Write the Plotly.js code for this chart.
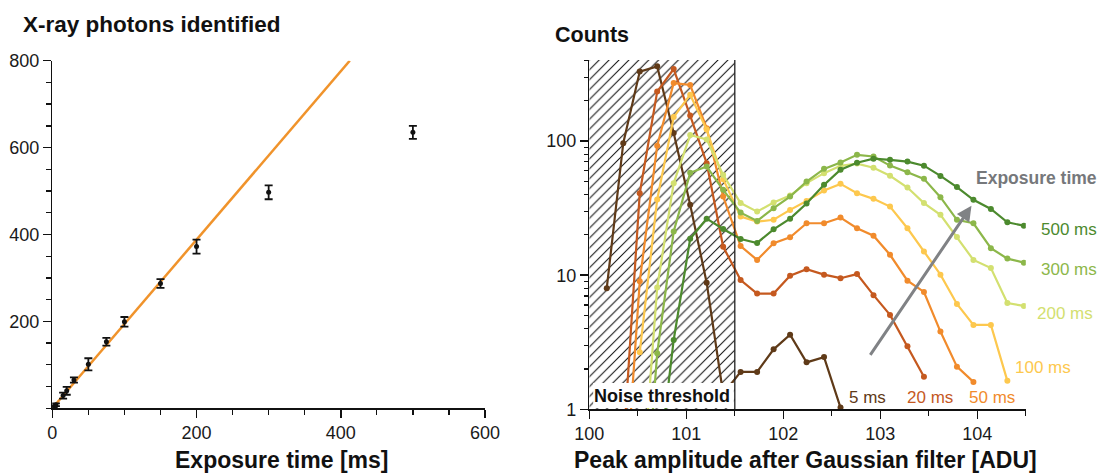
<!DOCTYPE html>
<html><head><meta charset="utf-8">
<script src="https://cdn.plot.ly/plotly-3.0.1.min.js"></script>
<style>html,body{margin:0;padding:0;background:#fff}#chart{width:1098px;height:474px}</style>
</head><body><div id="chart"></div>
<script>
// ---------- Left panel: X-ray photons identified vs exposure time ----------
const exposureMs = [2, 5, 15, 20, 30, 50, 75, 100, 150, 200, 300, 500];
const photonsIdentified = [4, 8, 29, 40, 65, 101, 153, 199, 287, 372, 497, 635];
const photonsError = [2, 3, 7, 9, 6, 14, 9, 11, 10, 16, 16, 15];
const fitExposure = [0, 412.5];
const fitPhotons = [0, 800];
const leftXTicks = [0, 200, 400, 600];
const leftYTicks = [200, 400, 600, 800];

// ---------- Right panel: Counts vs peak amplitude ----------
const amplitudeADU = [100.18, 100.35, 100.52, 100.70, 100.87, 101.04, 101.21, 101.38, 101.56, 101.73,
  101.90, 102.07, 102.24, 102.42, 102.59, 102.76, 102.93, 103.10, 103.28, 103.45,
  103.62, 103.79, 103.96, 104.14, 104.31, 104.48];
const counts5ms = [8.0, 96.6, 330, 361, 115, 33.5, 8.8, 1.3, 1.9, 1.9, 2.8, 3.6, 2.24, 2.45, 1.03,
  null, null, null, null, null, null, null, null, null, null, null];
const counts20ms = [null, 0.5, 40.9, 234, 345, 155, 68.5, 16.3, 9.2, 7.3, 7.3, 9.9, 11.1, 10.1, 9.5,
  10.2, 7.1, 5.06, 2.95, 1.75, null, null, null, null, null, null];
const counts50ms = [null, 0.14, 9.0, 92.5, 271, 262, 125, 38.6, 16.5, 13.0, 17.3, 19.2, 24.4, 24.4, 26.9,
  22.4, 19.7, 14.2, 9.1, 7.5, 3.8, 2.08, 1.6, null, null, null];
const counts100ms = [null, null, 2.66, 36.7, 151, 222, 122, 52, 27.4, 25.1, 25.9, 30.7, 35.8, 42.8, 48.0,
  40.9, 37.1, 32.5, 22.4, 15.0, 10.1, 6.1, 4.26, 4.26, 1.63, null];
const counts200ms = [null, null, 0.15, 8.1, 48.6, 111, 103, 56, 34.5, 29.8, 34.8, 39.3, 48.6, 57.7, 65.4,
  68, 63.3, 55.1, 45.1, 34.5, 28.2, 19.3, 13.0, 11.3, 6.2, 5.9];
const counts300ms = [null, null, 0.05, 2.62, 21.2, 58, 64.6, 43.3, 29.3, 25.4, 31.6, 38.6, 50.0, 62.1, 69.2,
  79.0, 76.8, 65.7, 58.7, 52.3, 38.2, 25.9, 24.4, 15.9, 13.3, 12.4];
const counts500ms = [null, null, null, 0.3, 3.29, 18.7, 26.4, 22.1, 18.6, 17.4, 22.0, 26.4, 34.3, 47.2, 61.1,
  69, 74, 72.5, 70.4, 65.6, 55, 45.4, 36.5, 31.2, 24.8, 23.4];
const seriesNames = ['5 ms', '20 ms', '50 ms', '100 ms', '200 ms', '300 ms', '500 ms'];
const seriesValues = [counts5ms, counts20ms, counts50ms, counts100ms, counts200ms, counts300ms, counts500ms];
const seriesColors = ['#5F3A18', '#C5591F', '#F18B2C', '#FDC84E', '#D3E070', '#8CB74A', '#4C8A2E'];
const noiseThreshold = [100, 101.5];
const rightXTicks = [100, 101, 102, 103, 104];
const rightYTicks = [1, 10, 100];
const rightYMinor = [2, 3, 4, 5, 6, 7, 8, 9, 20, 30, 40, 50, 60, 70, 80, 90, 200, 300, 400];
const arrowTail = [102.866, 2.36];
const arrowHead = [103.94, 32.9];

const FONT = 'Liberation Sans, Arial, Helvetica, sans-serif';
const TXT = '#1a1a1a';

const traces = [];
traces.push({
  x: fitExposure, y: fitPhotons, xaxis: 'x', yaxis: 'y', mode: 'lines',
  line: {color: '#F0932B', width: 2.5}, hoverinfo: 'skip'
});
traces.push({
  x: exposureMs, y: photonsIdentified, xaxis: 'x', yaxis: 'y', mode: 'markers',
  marker: {color: '#111', size: 5},
  error_y: {type: 'data', array: photonsError, visible: true, color: '#111', thickness: 1.8, width: 4}
});
// hatched noise region
traces.push({
  x: [noiseThreshold[0], noiseThreshold[1], noiseThreshold[1], noiseThreshold[0], noiseThreshold[0]],
  y: [0.5, 0.5, 2000, 2000, 0.5], xaxis: 'x2', yaxis: 'y2', mode: 'lines',
  fill: 'toself', fillcolor: 'rgba(0,0,0,0)', line: {width: 0, color: 'rgba(0,0,0,0)'},
  fillpattern: {shape: '/', size: 7, solidity: 0.15, fgcolor: '#111', bgcolor: '#fff'},
  hoverinfo: 'skip'
});
seriesValues.forEach((vals, i) => {
  traces.push({
    x: amplitudeADU, y: vals, name: seriesNames[i], xaxis: 'x2', yaxis: 'y2',
    mode: 'lines+markers', connectgaps: false,
    line: {color: seriesColors[i], width: 2.2},
    marker: {color: seriesColors[i], size: 6}
  });
});

const axisCommon = {
  showline: true, linecolor: '#111', linewidth: 1.5, ticks: 'outside', ticklen: 8, tickwidth: 1.5,
  tickcolor: '#111', showgrid: false, zeroline: false, fixedrange: true,
  tickfont: {family: FONT, size: 18, color: TXT}
};

const layout = {
  width: 1098, height: 474,
  margin: {l: 0, r: 0, t: 0, b: 0, pad: 0},
  paper_bgcolor: '#fff', plot_bgcolor: 'rgba(0,0,0,0)',
  showlegend: false,
  xaxis: Object.assign({}, axisCommon, {
    domain: [52.3/1098, 485/1098], range: [0, 600], tickvals: leftXTicks,
    minor: {ticks: 'outside', ticklen: 5, tickwidth: 1.3, tickcolor: '#111', dtick: 50, tick0: 0},
    anchor: 'y'
  }),
  yaxis: Object.assign({}, axisCommon, {
    domain: [(474-408.2)/474, (474-60.7)/474], range: [0, 800], tickvals: leftYTicks,
    minor: {ticks: 'outside', ticklen: 5, tickwidth: 1.3, tickcolor: '#111', dtick: 50, tick0: 0},
    anchor: 'x'
  }),
  xaxis2: Object.assign({}, axisCommon, {
    domain: [589.3/1098, 1025.8/1098], range: [100, 104.5], tickvals: rightXTicks,
    minor: {ticks: 'outside', ticklen: 5, tickwidth: 1.3, tickcolor: '#111', dtick: 0.5, tick0: 100},
    anchor: 'y2'
  }),
  yaxis2: Object.assign({}, axisCommon, {
    type: 'log', domain: [(474-409.3)/474, (474-60)/474], range: [0, 2.605],
    tickvals: rightYTicks, ticktext: rightYTicks.map(String),
    minor: {ticks: 'outside', ticklen: 4, tickwidth: 1.2, tickcolor: '#111', tickvals: rightYMinor},
    anchor: 'x2'
  }),
  shapes: [
    {type: 'rect', xref: 'x2', yref: 'y2 domain', x0: 100.04, x1: 101.49, y0: 0.004, y1: 0.075,
     fillcolor: '#fff', line: {width: 0}, layer: 'above'},
    {type: 'line', xref: 'x2', yref: 'y2 domain', x0: noiseThreshold[1], x1: noiseThreshold[1], y0: 0, y1: 1,
     line: {color: '#222', width: 1.3}, layer: 'above'}
  ],
  annotations: [
    {text: '<b>X-ray photons identified</b>', xref: 'paper', yref: 'paper', x: 21/1098, y: (474-24)/474,
     xanchor: 'left', yanchor: 'middle', showarrow: false, font: {family: FONT, size: 22.5, color: '#111'}},
    {text: '<b>Counts</b>', xref: 'paper', yref: 'paper', x: 553/1098, y: (474-35)/474,
     xanchor: 'left', yanchor: 'middle', showarrow: false, font: {family: FONT, size: 21.5, color: '#111'}},
    {text: '<b>Exposure time [ms]</b>', xref: 'paper', yref: 'paper', x: 281/1098, y: (474-460)/474,
     xanchor: 'center', yanchor: 'middle', showarrow: false, font: {family: FONT, size: 23, color: '#111'}},
    {text: '<b>Peak amplitude after Gaussian filter [ADU]</b>', xref: 'paper', yref: 'paper', x: 805/1098, y: (474-460)/474,
     xanchor: 'center', yanchor: 'middle', showarrow: false, font: {family: FONT, size: 23, color: '#111'}},
    {text: '<b>Noise threshold</b>', xref: 'x2', yref: 'y2 domain', x: 100.75, y: 0.038,
     xanchor: 'center', yanchor: 'middle', showarrow: false, font: {family: FONT, size: 18, color: '#111'}},
    {text: ' ', xref: 'x2', yref: 'y2', x: arrowHead[0], y: Math.log10(arrowHead[1]),
     axref: 'x2', ayref: 'y2', ax: arrowTail[0], ay: Math.log10(arrowTail[1]),
     showarrow: true, arrowhead: 2, arrowsize: 1, arrowwidth: 3, arrowcolor: '#808285', standoff: 0},
    {text: '<b>Exposure time</b>', xref: 'paper', yref: 'paper', x: 974/1098, y: (474-178)/474,
     xanchor: 'left', yanchor: 'middle', showarrow: false, font: {family: FONT, size: 17.5, color: '#76787B'}},
    {text: seriesNames[6], xref: 'paper', yref: 'paper', x: 1039/1098, y: (474-229)/474,
     xanchor: 'left', yanchor: 'middle', showarrow: false, font: {family: FONT, size: 17, color: seriesColors[6]}},
    {text: seriesNames[5], xref: 'paper', yref: 'paper', x: 1039/1098, y: (474-270)/474,
     xanchor: 'left', yanchor: 'middle', showarrow: false, font: {family: FONT, size: 17, color: seriesColors[5]}},
    {text: seriesNames[4], xref: 'paper', yref: 'paper', x: 1035/1098, y: (474-313)/474,
     xanchor: 'left', yanchor: 'middle', showarrow: false, font: {family: FONT, size: 17, color: seriesColors[4]}},
    {text: seriesNames[3], xref: 'paper', yref: 'paper', x: 1013/1098, y: (474-367)/474,
     xanchor: 'left', yanchor: 'middle', showarrow: false, font: {family: FONT, size: 17, color: seriesColors[3]}},
    {text: seriesNames[0], xref: 'paper', yref: 'paper', x: 847/1098, y: (474-397)/474,
     xanchor: 'left', yanchor: 'middle', showarrow: false, font: {family: FONT, size: 17, color: seriesColors[0]}},
    {text: seriesNames[1], xref: 'paper', yref: 'paper', x: 905/1098, y: (474-397)/474,
     xanchor: 'left', yanchor: 'middle', showarrow: false, font: {family: FONT, size: 17, color: seriesColors[1]}},
    {text: seriesNames[2], xref: 'paper', yref: 'paper', x: 967/1098, y: (474-397)/474,
     xanchor: 'left', yanchor: 'middle', showarrow: false, font: {family: FONT, size: 17, color: seriesColors[2]}}
  ]
};

Plotly.newPlot('chart', traces, layout, {staticPlot: true, displayModeBar: false});
</script>
</body></html>
